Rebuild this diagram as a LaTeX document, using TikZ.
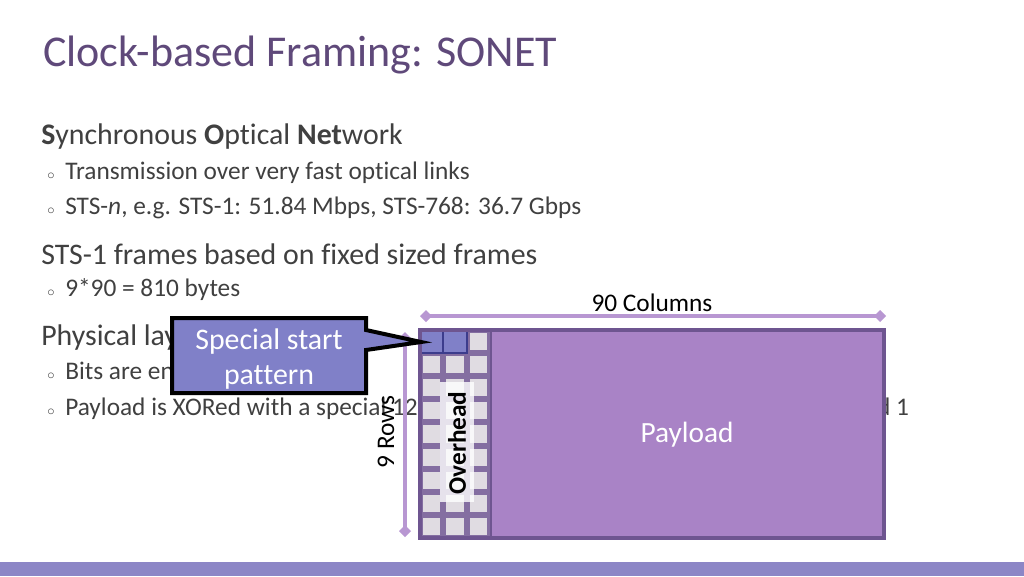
\documentclass[tikz,border=0pt]{standalone}
\usepackage{fontspec}
\setmainfont[RawFeature={-liga}]{Carlito}
\usetikzlibrary{arrows.meta}
\definecolor{titlec}{HTML}{5F497A}
\definecolor{txt}{HTML}{404040}
\definecolor{pay}{HTML}{A983C6}
\definecolor{frame}{HTML}{6E5590}
\definecolor{cellc}{HTML}{E0DCE2}
\definecolor{dim}{HTML}{B897D2}
\definecolor{call}{HTML}{8080C8}
\definecolor{bar}{HTML}{8C86C6}
\newcommand{\bul}{\makebox[13.5pt][l]{\fontsize{11pt}{11pt}\selectfont$\circ$}}
\tikzset{
 body/.style={anchor=west,text=txt,font=\fontsize{22.4pt}{23pt}\selectfont,inner sep=0},
 sub/.style={anchor=west,text=txt,font=\fontsize{19pt}{20pt}\selectfont,inner sep=0},
 dimline/.style={draw=dim,line width=3pt,{Diamond[length=9pt,width=9pt]}-{Diamond[length=9pt,width=9pt]}}
}
\begin{document}
\begin{tikzpicture}[x=0.75pt,y=-0.75pt]
\useasboundingbox (0,0) rectangle (1024,576);
\fill[bar] (0,562) rectangle (1024,576);
\node[anchor=west,text=titlec,font=\fontsize{33pt}{34pt}\selectfont,inner sep=0] (title) at (43,55) {Clock-based Framing: SONET};
\node[body] (l1) at (41,137) {\textbf{S}ynchronous \textbf{O}ptical \textbf{Net}work};
\node[sub] (l2) at (47,173) {\bul Transmission over very fast optical links};
\node[sub] (l3) at (47,208) {\bul STS-\textit{n}, e.g. STS-1: 51.84 Mbps, STS-768: 36.7 Gbps};
\node[body] (l4) at (41,254) {STS-1 frames based on fixed sized frames};
\node[sub] (l5) at (47,290) {\bul 9*90 = 810 bytes};
\node[body] (l6) at (41,338) {Physical layer details};
\node[sub] (l7) at (47,373) {\bul Bits are encoded using NRZ};
\node[sub] (l8) at (47,409) {\bul Payload is XORed with a special 127-bit pattern to avoid long sequences of 0 and 1};
% payload and overhead
\fill[white] (418,328) rectangle (886,540);
\path[fill=pay,draw=frame,line width=2.5pt] (490,330) rectangle (884,538);
\node[text=white,font=\fontsize{22pt}{23pt}\selectfont] (ptxt) at (687,435) {Payload};
\fill[frame!85] (420,330) rectangle (490,538);
\foreach \i in {0,1,2}{\foreach \j in {0,...,8}{
 \fill[cellc] (423+23.3*\i,333+23.1*\j) rectangle (420+23.3*\i+20.3,330+23.1*\j+20.1);}}
\fill[call,draw={rgb,255:red,60;green,60;blue,140},line width=1.5pt] (420,331) rectangle (443,353);
\fill[call,draw={rgb,255:red,60;green,60;blue,140},line width=1.5pt] (443.3,331) rectangle (466.6,353);
\draw[frame,line width=2.5pt] (420,330) rectangle (884,538);
\fill[white,opacity=0.8] (440,382) rectangle (474,502);
\node[rotate=90,font=\bfseries\fontsize{19pt}{20pt}\selectfont,text=black] (oh) at (457,443) {Overhead};
% dimensions
\coordinate (c1) at (420,316); \coordinate (c2) at (886,316);
\draw[dimline] (c1) -- (c2);
\node[font=\fontsize{19pt}{20pt}\selectfont,text=black] (cols) at (652,303) {90 Columns};
\coordinate (r1) at (405,332); \coordinate (r2) at (405,537);
\draw[dimline] (r1) -- (r2);
\node[rotate=90,font=\fontsize{19pt}{20pt}\selectfont,text=black] (rows) at (386,432) {9 Rows};
% callout
\coordinate (tip) at (421,342);
\draw[fill=call,draw=black,line width=3pt,line join=miter] (172,318) -- (366,318) -- (366,330) -- (tip) -- (366,350) -- (366,393) -- (172,393) -- cycle;
\node[text=white,font=\fontsize{22.4pt}{26pt}\selectfont,align=center] (sp) at (269,359) {Special start\\pattern};
\end{tikzpicture}
\end{document}
